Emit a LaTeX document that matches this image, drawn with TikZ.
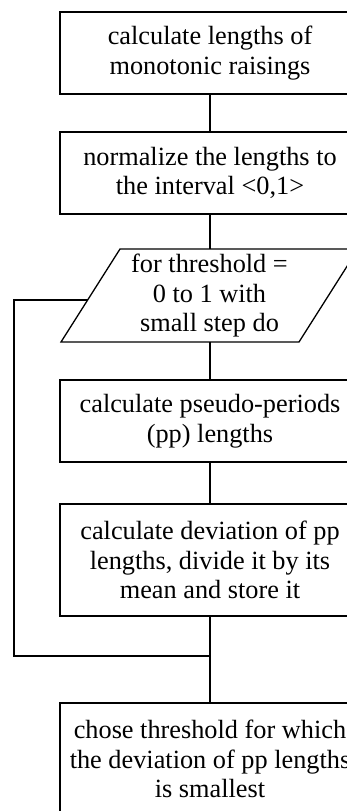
\documentclass[tikz,border=0pt]{standalone}
\usepackage{fontspec}
\setmainfont{Liberation Serif}
\begin{document}
\begin{tikzpicture}[x=1pt,y=-1pt,
  line width=1.3pt,
  txt/.style={font=\fontsize{26.3}{29.5}\selectfont, align=center, inner sep=0pt},
  stepbox/.style={txt, draw, rectangle, minimum width=300pt, minimum height=#1},
  stepbox/.default=82pt]
\path[use as bounding box, clip] (0,0) rectangle (347,811);
\fill[white] (0,0) rectangle (347,811);

\node[stepbox] (b1) at (210,53) {calculate lengths of\\monotonic raisings};
\node[stepbox] (b2) at (210,173) {normalize the lengths to\\the interval <0,1>};
\node[txt] (p) at (209.5,296) {for threshold =\\0 to 1 with\\small step do};
\draw (120,249) coordinate (ptl) -- (358,249) coordinate (ptr)
      -- (299,342) coordinate (pbr) -- (61,342) coordinate (pbl) -- cycle;
\coordinate (ptop) at (210,249);
\coordinate (pbot) at (210,342);
\coordinate (pin) at (87.7,300);
\node[stepbox] (b3) at (210,421) {calculate pseudo-periods\\(pp) lengths};
\node[stepbox=112pt] (b4) at (210,560) {calculate deviation of pp\\lengths, divide it by its\\mean and store it};
\node[stepbox=112pt] (b5) at (210,759) {chose threshold for which\\the deviation of pp lengths\\is smallest};
\coordinate (join) at (210,656);
\coordinate (loopx) at (14,300);

\draw (b1.south) -- (b2.north);
\draw (b2.south) -- (ptop);
\draw (pbot) -- (b3.north);
\draw (b3.south) -- (b4.north);
\draw (b4.south) -- (join) -- (b5.north);
\draw (pin) -- (loopx) |- (join);
\end{tikzpicture}
\end{document}
